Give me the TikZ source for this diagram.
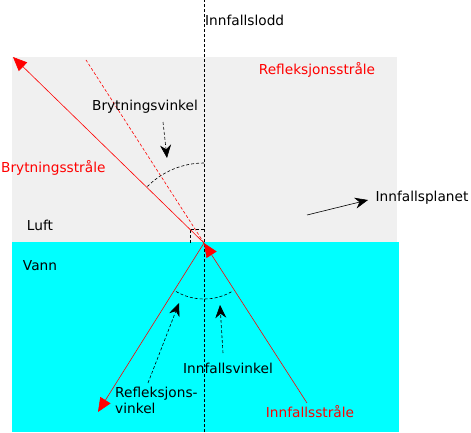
\documentclass[tikz,border=0pt]{standalone}
\usepackage{fontspec}
\setmainfont{DejaVu Sans}
\usepackage{xcolor}
\usetikzlibrary{calc,arrows.meta,positioning}
\definecolor{luft}{HTML}{F0F0F0}
\definecolor{vann}{HTML}{00FFFF}
\tikzset{
  ray/.style={draw=red, line width=0.6pt, -{Triangle[length=14pt, width=12pt]}},
  raydash/.style={draw=red, line width=0.6pt, dash pattern=on 3pt off 2pt},
  lodd/.style={draw=black, line width=0.6pt, dash pattern=on 3pt off 2pt},
  pil/.style={draw=black, line width=0.6pt, dash pattern=on 3pt off 2pt, 
  -{Stealth[length=13pt, width=11pt]}},
  lbl/.style={inner sep=0pt, font=\fontsize{13.7}{16}\selectfont, align=left},
  redlbl/.style={lbl, text=red}
}

\begin{document}
\begin{tikzpicture}[x=1pt, y=1pt]
		\useasboundingbox (0,0) rectangle (471,432);
		% medier
		\fill[luft] (12,190) rectangle (397,375);
		\fill[vann] (12,0) rectangle (399,190);
		% punkter
		\coordinate (O) at (204,189);
		\coordinate (inn) at (307,29);
		\coordinate (bryt) at (13,375);
		\coordinate (refl) at (98,20);
		\coordinate (forl) at (86,372);
		\coordinate (topp) at (204,432);
		\coordinate (bunn) at (204,0);
		% innfallslodd
		\draw[lodd] (bunn) -- (topp);
		\draw[lodd] (190,189) -- (190,203) -- (204,203);
		% straaler
		\draw[raydash] (O) -- (forl);
		\draw[ray] (inn) -- (O);
		\draw[ray] (O) -- (bryt);
		\draw[ray] (O) -- (refl);
		% vinkler
		\draw[lodd] ($(O)+(90:80pt)$) arc[start angle=90, end angle=135, radius=80pt];
		\draw[lodd] ($(O)+(240:56pt)$) arc[start angle=240, end angle=300, radius=56pt];
		% tekster
		\node[lbl, anchor=west] (loddtxt) at (205,412) {Innfallslodd};
		\node[redlbl] (refltxt) at (317,362) {Refleksjonsstråle};
		\node[lbl] (brytv) at (145,325) {Brytningsvinkel};
		\node[redlbl, anchor=west] (bryttxt) at (1,264) {Brytningsstråle};
		\node[lbl] (lufttxt) at (40,207) {Luft};
		\node[lbl] (vanntxt) at (40,166) {Vann};
		\node[lbl] (plan) at (422,234) {Innfallsplanet};
		\node[lbl] (innv) at (228,64) {Innfallsvinkel};
		\node[lbl, anchor=west] (reflv) at (115,32) {Refleksjons-\\vinkel};
		\node[redlbl] (inntxt) at (310,20) {Innfallsstråle};
		% piler
		\coordinate (a1) at (163,310);
		\coordinate (a2) at (167,274);
		\draw[pil] (a1) -- (a2);
		\coordinate (b1) at (307,217);
		\coordinate (b2) at (368,232);
		\draw[black, line width=0.6pt, -{Stealth[length=13pt, width=11pt]}] (b1) -- (b2);
		\coordinate (c1) at (223,79);
		\coordinate (c2) at (220,127);
		\draw[pil] (c1) -- (c2);
		\coordinate (d1) at (148,49);
		\coordinate (d2) at (179,129);
		\draw[pil] (d1) -- (d2);
\end{tikzpicture}
\end{document}
